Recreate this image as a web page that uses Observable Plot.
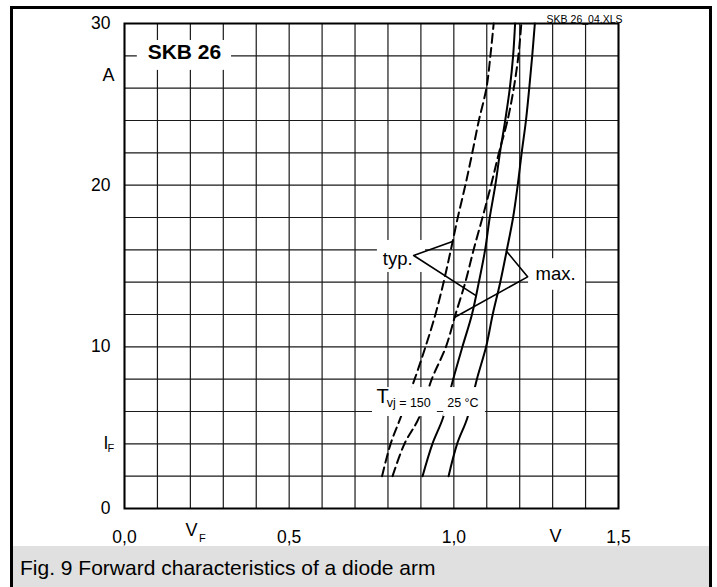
<!DOCTYPE html>
<html>
<head>
<meta charset="utf-8">
<script src="https://cdn.jsdelivr.net/npm/d3@7"></script>
<script src="https://cdn.jsdelivr.net/npm/@observablehq/plot@0.6"></script>
<style>
  body { margin: 0; background: #fff; font-family: "Liberation Sans", Arial, sans-serif; }
  #wrap { position: relative; width: 717px; height: 587px; overflow: hidden; background: #fff; }
  #chart { position: absolute; left: 0; top: 0; }
  #border { position: absolute; left: 10px; top: 6px; width: 696px; height: 600px; border: 3px solid #000; border-bottom: none; pointer-events: none; }
  #caption { position: absolute; left: 13px; top: 546px; width: 696px; height: 41px; background: #e0e0e0; font-size: 21px; line-height: 43px; padding-left: 7px; box-sizing: border-box; color: #000; white-space: nowrap; }
</style>
</head>
<body>
<div id="wrap">
  <div id="chart"></div>
  <div id="border"></div>
  <div id="caption">Fig. 9 Forward characteristics of a diode arm</div>
</div>
<script>
// ---- data ----
const current = [2, 4, 5.6, 8, 10, 12, 14, 16, 18, 20, 22, 24, 26, 28, 30]; // I_F (A)
const vf150typ = [0.782, 0.808, 0.838, 0.881, 0.914, 0.944, 0.969, 0.991, 1.012, 1.035, 1.056, 1.076, 1.099, 1.111, 1.121];
const vf150max = [0.814, 0.850, 0.894, 0.933, 0.976, 1.005, 1.035, 1.060, 1.087, 1.113, 1.137, 1.163, 1.182, 1.196, 1.205];
const vf25typ  = [0.905, 0.935, 0.967, 0.998, 1.026, 1.055, 1.076, 1.095, 1.109, 1.126, 1.140, 1.156, 1.170, 1.180, 1.186];
const vf25max  = [0.984, 1.010, 1.041, 1.070, 1.098, 1.118, 1.141, 1.161, 1.180, 1.194, 1.206, 1.219, 1.229, 1.238, 1.246];

const xTicks = [0, 0.5, 1.0, 1.5];
const yTicks = [0, 10, 20, 30];
const xGrid = d3.range(0, 1.5001, 0.1);
const yGrid = d3.range(0, 30.001, 2);

// annotation anchors (data coordinates)
const typLeader = [{x: 0.996, y: 16.52}, {x: 0.878, y: 15.65}, {x: 1.066, y: 13.18}];
const maxLeader = [{x: 1.160, y: 15.91}, {x: 1.224, y: 14.33}, {x: 1.003, y: 11.83}];
const labelBoxes = [
  {x1: 0.039, x2: 0.325, y1: 27.1, y2: 28.95},
  {x1: 0.768, x2: 0.914, y1: 14.6, y2: 16.58},
  {x1: 1.227, x2: 1.400, y1: 13.5, y2: 15.45},
  {x1: 0.753, x2: 0.950, y1: 5.69, y2: 7.48},
  {x1: 0.969, x2: 1.096, y1: 5.69, y2: 7.48}
];

// ---- build tables ----
const toRows = (vals, name) => vals.map((v, k) => ({v, i: current[k], series: name}));
const dashedRows = [...toRows(vf150typ, "150 typ"), ...toRows(vf150max, "150 max")];
const solidRows  = [...toRows(vf25typ, "25 typ"), ...toRows(vf25max, "25 max")];
const comma = d => d.toFixed(1).replace(".", ",");

const chart = Plot.plot({
  width: 717,
  height: 546,
  marginLeft: 124,
  marginRight: 99,
  marginTop: 23,
  marginBottom: 38,
  style: {fontFamily: "'Liberation Sans', Arial, sans-serif", fontSize: "17px", background: "transparent", overflow: "visible", color: "#000"},
  x: {domain: [0, 1.5]},
  y: {domain: [0, 30]},
  marks: [
    Plot.gridX(xGrid, {stroke: "#1a1a1a", strokeOpacity: 1, strokeWidth: 1.2}),
    Plot.gridY(yGrid, {stroke: "#1a1a1a", strokeOpacity: 1, strokeWidth: 1.2}),
    Plot.line(dashedRows, {x: "v", y: "i", z: "series", stroke: "#000", strokeWidth: 2, strokeDasharray: "9,5", curve: "catmull-rom"}),
    Plot.line(solidRows, {x: "v", y: "i", z: "series", stroke: "#000", strokeWidth: 2, curve: "catmull-rom"}),
    Plot.rect(labelBoxes, {x1: "x1", x2: "x2", y1: "y1", y2: "y2", fill: "#fff"}),
    Plot.line(typLeader, {x: "x", y: "y", stroke: "#000", strokeWidth: 1.6}),
    Plot.line(maxLeader, {x: "x", y: "y", stroke: "#000", strokeWidth: 1.6}),
    Plot.frame({stroke: "#000", strokeWidth: 2}),
    Plot.axisX(xTicks, {tickSize: 0, tickPadding: 22, tickFormat: comma, fontSize: 17.5}),
    Plot.axisY(yTicks, {tickSize: 0, tickPadding: 14, tickFormat: d => String(d), fontSize: 17.5}),
    // axis names and units
    Plot.text(["V"], {x: [0.185], frameAnchor: "bottom", dy: 27, textAnchor: "start", fontSize: 18}),
    Plot.text(["F"], {x: [0.226], frameAnchor: "bottom", dy: 33, textAnchor: "start", fontSize: 11}),
    Plot.text(["V"], {x: [1.309], frameAnchor: "bottom", dy: 33, textAnchor: "middle", fontSize: 18}),
    Plot.text(["A"], {y: [26.8], frameAnchor: "left", dx: -16, textAnchor: "middle", fontSize: 18}),
    Plot.text(["I"], {y: [4], frameAnchor: "left", dx: -21, textAnchor: "start", fontSize: 17.5}),
    Plot.text(["F"], {y: [4], frameAnchor: "left", dx: -17, dy: 5, textAnchor: "start", fontSize: 11}),
    // labels
    Plot.text(["SKB 26"], {x: [0.182], y: [28.2], fontWeight: "bold", fontSize: 21, textAnchor: "middle"}),
    Plot.text(["SKB 26_04.XLS"], {frameAnchor: "top-right", dx: 4, dy: -8, textAnchor: "end", fontSize: 10.5}),
    Plot.text(["typ."], {x: [0.878], y: [15.4], dx: -1, textAnchor: "end", fontSize: 18.5}),
    Plot.text(["max."], {x: [1.309], y: [14.52], textAnchor: "middle", fontSize: 18.5}),
    Plot.text(["T"], {x: [0.765], y: [6.91], textAnchor: "start", fontSize: 20}),
    Plot.text(["vj = 150"], {x: [0.796], y: [6.53], textAnchor: "start", fontSize: 12.5}),
    Plot.text(["25 \u00b0C"], {x: [0.980], y: [6.53], textAnchor: "start", fontSize: 12.5})
  ]
});
document.getElementById("chart").appendChild(chart);
</script>
</body>
</html>
